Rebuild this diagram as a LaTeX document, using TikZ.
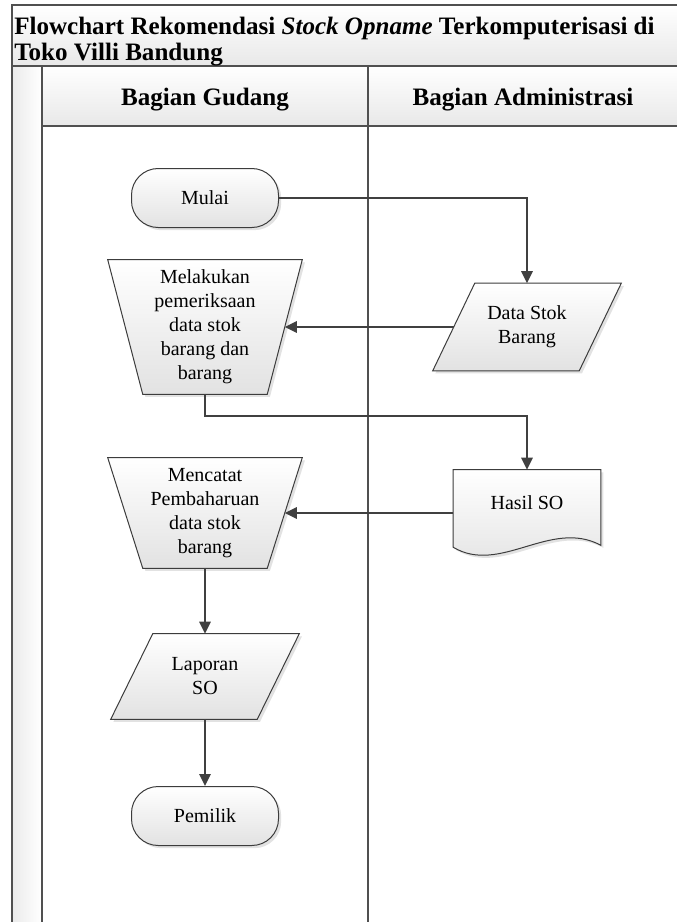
\documentclass[tikz,border=0pt]{standalone}
\usepackage{fontspec}
\setmainfont{Liberation Serif}
\usetikzlibrary{arrows.meta,calc,shadows,backgrounds}

\definecolor{laneline}{HTML}{505050}
\definecolor{wire}{HTML}{404040}
\definecolor{symedge}{HTML}{3C3C3C}
\definecolor{symbottom}{HTML}{E2E2E2}

\newcommand\lanebody{\fontsize{15pt}{18pt}\selectfont}
\newcommand\lanehead{\fontsize{18.8pt}{19.5pt}\selectfont\bfseries}

\tikzset{
  frameline/.style={draw=laneline, line width=1.5pt},
  bandfill/.style={draw=none, top color=white, bottom color=black!9},
  gutterfill/.style={draw=none, left color=black!8, right color=white},
  symfill/.style={draw=symedge, line width=0.75pt, top color=white, bottom color=symbottom,
    drop shadow={shadow xshift=2pt, shadow yshift=-2pt, opacity=0.25, fill=black!45}},
  terminal/.style={symfill, rectangle, rounded corners=20pt, minimum width=110.25pt,
    minimum height=44.25pt, inner sep=0pt, font=\lanebody},
  symbox/.style={rectangle, inner sep=0pt, align=center, font=\lanebody},
  conn/.style={draw=wire, line width=1.5pt, -{Triangle[length=9pt,width=8.5pt]}},
}

% manual operation (wide top) around an invisible box holding the text
\newcommand\manualopshape[1]{%
  \path[symfill] ($(#1.north west)+(-17.5,0)$) -- ($(#1.north east)+(17.5,0)$)
    -- ($(#1.south east)+(-17.5,0)$) -- ($(#1.south west)+(17.5,0)$) -- cycle;}
% data (parallelogram) around an invisible box holding the text
\newcommand\ioshape[1]{%
  \path[symfill] ($(#1.north west)+(21,0)$) -- ($(#1.north east)+(21,0)$)
    -- ($(#1.south east)+(-21,0)$) -- ($(#1.south west)+(-21,0)$) -- cycle;}

\begin{document}
\begin{tikzpicture}[x=0.75pt,y=-0.75pt]
\useasboundingbox (0,0) rectangle (677,922);

% ---- symbols ----
\node[terminal] (mulai) at (205,198) {Mulai};
\node[symbox, minimum width=119.25pt, minimum height=100.5pt] (mel) at (205,327)
  {Melakukan\\pemeriksaan\\data stok\\barang dan\\barang};
\node[symbox, minimum width=109.5pt, minimum height=65.25pt] (data) at (527,327)
  {Data Stok\\Barang};
\node[symbox, minimum width=110.25pt, minimum height=64.5pt] (hasil) at (527,513) {};
\node[symbox] (hasiltxt) at (527,503) {Hasil SO};
\node[symbox, minimum width=119.25pt, minimum height=82.5pt] (men) at (205,513)
  {Mencatat\\Pembaharuan\\data stok\\barang};
\node[symbox, minimum width=109.5pt, minimum height=63.75pt] (lap) at (205,676.5)
  {Laporan\\SO};
\node[terminal] (pemilik) at (205,816) {Pemilik};

% ---- pool title and lane headers ----
\node[anchor=north west, align=left, inner sep=0pt, font=\lanehead] (title) at (14,17)
  {Flowchart Rekomendasi \textit{Stock Opname} Terkomputerisasi di\\Toko Villi Bandung};
\node[anchor=base, inner sep=0pt, font=\lanehead] (hgud) at (205,105) {Bagian Gudang};
\node[anchor=base, inner sep=0pt, font=\lanehead] (hadm) at (523,105) {Bagian Administrasi};

\begin{scope}[on background layer]
  % pool frame
  \path[bandfill] (12,5) rectangle (690,66);
  \path[bandfill] (42,66) rectangle (690,126);
  \path[gutterfill] (12,66) rectangle (42,930);
  \draw[frameline] (690,5) -- (12,5) -- (12,930);
  \draw[frameline] (12,66) -- (690,66);
  \draw[frameline] (42,126) -- (690,126);
  \draw[frameline] (42,66) -- (42,930);
  \draw[frameline] (368,66) -- (368,930);
  % symbol outlines
  \manualopshape{mel}
  \manualopshape{men}
  \ioshape{data}
  \ioshape{lap}
  \path[symfill] (hasil.north west) -- (hasil.north east) -- ($(hasil.south east)+(0,-11)$)
    .. controls ($(hasil.south east)+(-50,-38)$) and ($(hasil.south west)+(47,19)$)
    .. ($(hasil.south west)+(0,-9)$) -- cycle;
\end{scope}

% ---- flow ----
\draw[conn] (mulai.east) -| (data.north);
\draw[conn] (data.west) -- (mel.east);
\draw[conn] (mel.south) -- ++(0,22) -| (hasil.north);
\draw[conn] (hasil.west) -- (men.east);
\draw[conn] (men.south) -- (lap.north);
\draw[conn] (lap.south) -- (pemilik.north);
\end{tikzpicture}
\end{document}
